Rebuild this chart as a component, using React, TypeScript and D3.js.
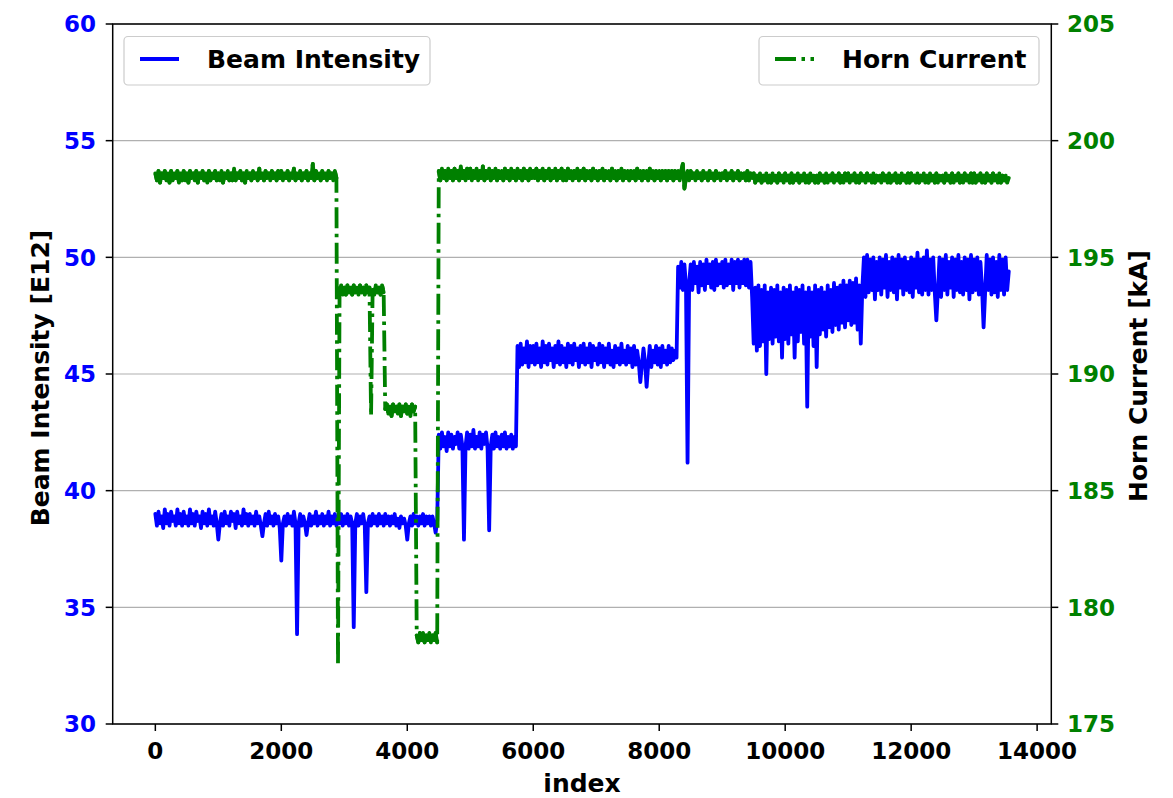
import React from 'react';
import * as d3 from 'd3';

// sample index (x): every 25th record, 0 … 13550
const sampleIndex = d3.range(0, 13551, 25);

// Beam Intensity [E12] (20 samples = 500 indices per row)
const beamIntensity = [
  39.0, 38.5, 39.1, 38.6, 38.9, 38.4, 39.2, 38.6, 39.0, 38.5, 39.1, 38.7, 38.9, 38.5, 39.2, 38.6, 39.0, 38.5, 39.1, 38.6,
  38.9, 38.5, 39.2, 38.6, 39.0, 38.5, 39.1, 38.7, 38.9, 38.4, 39.1, 38.6, 39.0, 38.5, 39.2, 38.6, 38.9, 38.5, 39.1, 38.6,
  37.9, 38.6, 39.0, 38.5, 39.1, 38.6, 38.9, 38.5, 39.1, 38.7, 39.0, 38.4, 39.1, 38.6, 38.9, 38.5, 39.2, 38.6, 39.0, 38.5,
  39.0, 38.6, 38.9, 38.5, 39.1, 38.6, 38.9, 38.5, 38.05, 38.6, 39.0, 38.5, 39.1, 38.6, 38.9, 38.5, 39.0, 38.6, 38.9, 38.4,
  37.0, 38.6, 38.9, 38.5, 39.0, 38.6, 38.9, 38.5, 39.1, 38.6, 33.85, 38.6, 39.0, 38.5, 38.9, 38.6, 38.1, 38.6, 39.0, 38.5,
  38.9, 38.6, 39.1, 38.5, 38.9, 38.6, 39.0, 38.5, 38.9, 38.6, 39.1, 38.5, 38.9, 38.6, 39.0, 38.5, 38.9, 38.6, 39.0, 38.5,
  38.9, 38.6, 39.0, 38.5, 38.9, 38.6, 34.15, 38.6, 39.0, 38.5, 38.9, 38.6, 39.0, 38.5, 35.65, 38.6, 38.9, 38.5, 39.0, 38.6,
  38.9, 38.5, 39.0, 38.6, 38.9, 38.5, 39.0, 38.6, 38.9, 38.5, 38.9, 38.6, 39.0, 38.5, 38.8, 38.4, 38.9, 38.6, 38.8, 38.5,
  37.9, 38.6, 38.9, 38.5, 39.0, 38.6, 38.9, 38.5, 38.9, 38.6, 39.0, 38.5, 38.9, 38.6, 38.9, 38.5, 38.9, 38.6, 38.2, 38.7,
  42.4, 41.8, 42.5, 41.9, 42.3, 41.7, 42.5, 41.9, 42.4, 41.8, 42.3, 42.0, 42.5, 41.8, 42.4, 41.9, 37.9, 41.9, 42.5, 41.8,
  42.4, 41.9, 42.6, 41.8, 42.3, 41.9, 42.5, 41.8, 42.4, 42.0, 42.5, 41.8, 38.3, 41.9, 42.4, 41.8, 42.5, 41.9, 42.3, 41.8,
  42.4, 41.9, 42.5, 41.8, 42.3, 41.9, 42.4, 41.8, 42.3, 41.9, 46.2, 45.3, 46.3, 45.4, 46.1, 45.5, 46.4, 45.3, 46.2, 45.5,
  46.2, 45.4, 46.3, 45.5, 46.1, 45.3, 46.4, 45.5, 46.2, 45.4, 46.3, 45.6, 46.1, 45.3, 46.2, 45.5, 46.4, 45.4, 46.2, 45.5,
  46.1, 45.3, 46.3, 45.5, 46.2, 45.4, 46.3, 45.6, 46.1, 45.3, 46.2, 45.5, 46.3, 45.4, 46.1, 45.5, 46.3, 45.3, 46.2, 45.6,
  46.1, 45.4, 46.3, 45.5, 46.2, 45.3, 46.1, 45.5, 46.3, 45.4, 46.0, 45.3, 46.2, 45.5, 46.1, 45.4, 46.3, 45.5, 46.0, 45.4,
  46.2, 45.5, 46.1, 45.3, 46.2, 45.4, 46.0, 45.5, 44.65, 45.4, 46.1, 45.5, 44.45, 45.4, 46.2, 45.3, 46.0, 45.5, 46.2, 45.4,
  46.1, 45.3, 46.2, 45.5, 46.0, 45.4, 46.2, 45.5, 46.1, 45.6, 46.0, 45.7, 49.6, 48.7, 49.8, 48.6, 49.7, 48.8, 41.2, 48.9,
  49.7, 48.6, 49.8, 48.9, 49.6, 48.5, 49.8, 48.8, 49.7, 48.6, 49.9, 48.9, 49.7, 48.7, 49.8, 48.6, 49.9, 48.8, 49.7, 48.9,
  49.8, 48.7, 49.9, 48.8, 49.7, 48.9, 49.9, 48.6, 49.8, 48.9, 49.9, 48.7, 49.8, 48.9, 49.9, 48.8, 49.9, 48.7, 49.8, 48.3,
  46.3, 48.7, 46.0, 48.8, 46.2, 48.6, 46.4, 48.8, 45.0, 48.5, 46.5, 48.7, 46.3, 48.6, 46.6, 48.8, 46.4, 48.5, 45.7, 48.7,
  46.5, 48.6, 46.3, 48.8, 46.7, 48.5, 45.7, 48.7, 46.4, 48.6, 46.8, 48.8, 46.3, 48.5, 43.6, 48.7, 46.6, 48.5, 46.2, 48.8,
  45.3, 48.6, 46.7, 48.7, 46.9, 48.5, 46.6, 48.8, 47.0, 48.6, 46.8, 48.9, 47.1, 48.7, 46.9, 48.8, 47.2, 49.0, 47.0, 48.8,
  47.3, 49.0, 47.1, 48.9, 47.2, 49.1, 46.9, 48.8, 46.3, 48.7, 50.0, 48.3, 50.1, 48.5, 49.9, 48.6, 50.0, 48.2, 49.8, 48.6,
  50.0, 48.4, 49.9, 48.7, 50.1, 48.3, 49.8, 48.6, 50.0, 48.5, 49.9, 48.2, 50.1, 48.7, 49.9, 48.4, 50.0, 48.6, 49.8, 48.5,
  50.0, 48.3, 49.9, 48.7, 50.2, 48.5, 49.9, 48.4, 50.0, 48.6, 50.3, 48.4, 49.9, 48.6, 50.0, 48.5, 47.3, 48.6, 50.0, 48.3,
  49.9, 48.6, 50.1, 48.4, 49.8, 48.7, 50.0, 48.3, 49.9, 48.6, 50.1, 48.5, 49.8, 48.4, 50.0, 48.6, 49.9, 48.2, 50.1, 48.5,
  49.9, 48.6, 50.0, 48.4, 49.8, 48.7, 47.0, 48.5, 50.1, 48.6, 49.9, 48.4, 50.0, 48.5, 49.8, 48.3, 50.1, 48.6, 49.9, 48.4,
  50.0, 48.6, 49.4,
];

// Horn Current [kA] (20 samples = 500 indices per row)
const hornCurrent = [
  198.6, 198.3, 198.7, 198.2, 198.6, 198.4, 198.7, 198.3, 198.6, 198.2, 198.7, 198.3, 198.6, 198.4, 198.7, 198.2, 198.6, 198.3, 198.7, 198.3,
  198.6, 198.2, 198.7, 198.4, 198.6, 198.3, 198.7, 198.2, 198.6, 198.4, 198.7, 198.3, 198.6, 198.2, 198.7, 198.3, 198.6, 198.4, 198.7, 198.3,
  198.6, 198.3, 198.7, 198.2, 198.6, 198.4, 198.7, 198.3, 198.6, 198.3, 198.8, 198.3, 198.6, 198.4, 198.7, 198.3, 198.6, 198.2, 198.7, 198.4,
  198.6, 198.3, 198.7, 198.4, 198.6, 198.3, 198.8, 198.4, 198.6, 198.3, 198.7, 198.4, 198.6, 198.3, 198.7, 198.4, 198.6, 198.3, 198.7, 198.4,
  198.7, 198.3, 198.6, 198.4, 198.7, 198.3, 198.6, 198.4, 198.8, 198.3, 198.6, 198.4, 198.7, 198.3, 198.6, 198.4, 198.7, 198.3, 198.6, 198.4,
  199.0, 198.3, 198.7, 198.4, 198.6, 198.3, 198.7, 198.4, 198.6, 198.3, 198.7, 198.4, 198.6, 198.3, 198.7, 198.4, 177.5, 193.6, 193.8, 193.4,
  193.7, 193.4, 193.8, 193.5, 193.7, 193.4, 193.8, 193.5, 193.7, 193.4, 193.8, 193.5, 193.7, 193.4, 193.8, 193.5, 193.7, 188.2, 193.6, 193.4,
  193.8, 193.5, 193.7, 193.4, 193.8, 193.5, 188.5, 188.7, 188.3, 188.6, 188.2, 188.7, 188.4, 188.6, 188.3, 188.7, 188.2, 188.6, 188.4, 188.7,
  188.3, 188.6, 188.2, 188.7, 188.4, 188.6, 178.8, 178.5, 178.9, 178.6, 178.9, 178.5, 178.8, 178.6, 178.9, 178.5, 178.8, 178.6, 178.9, 178.5,
  198.7, 198.3, 198.8, 198.4, 198.7, 198.3, 198.8, 198.4, 198.7, 198.3, 198.8, 198.4, 198.7, 198.3, 198.9, 198.4, 198.7, 198.3, 198.8, 198.4,
  198.8, 198.3, 198.7, 198.4, 198.8, 198.3, 198.7, 198.4, 198.9, 198.3, 198.7, 198.4, 198.8, 198.3, 198.7, 198.4, 198.8, 198.3, 198.7, 198.4,
  198.7, 198.3, 198.8, 198.4, 198.7, 198.3, 198.8, 198.4, 198.7, 198.3, 198.8, 198.4, 198.7, 198.3, 198.8, 198.4, 198.7, 198.3, 198.8, 198.4,
  198.7, 198.4, 198.8, 198.3, 198.7, 198.4, 198.8, 198.3, 198.7, 198.4, 198.8, 198.3, 198.7, 198.4, 198.8, 198.3, 198.7, 198.4, 198.8, 198.3,
  198.7, 198.3, 198.8, 198.4, 198.7, 198.3, 198.7, 198.4, 198.8, 198.3, 198.7, 198.4, 198.8, 198.3, 198.7, 198.4, 198.7, 198.3, 198.8, 198.4,
  198.7, 198.3, 198.7, 198.4, 198.8, 198.3, 198.7, 198.4, 198.7, 198.3, 198.8, 198.4, 198.7, 198.3, 198.7, 198.4, 198.8, 198.3, 198.7, 198.4,
  198.7, 198.3, 198.7, 198.4, 198.7, 198.3, 198.8, 198.4, 198.7, 198.3, 198.7, 198.4, 198.7, 198.3, 198.8, 198.4, 198.7, 198.3, 198.7, 198.4,
  198.7, 198.3, 198.7, 198.4, 198.7, 198.3, 198.7, 198.4, 198.7, 198.3, 198.7, 198.4, 198.7, 198.3, 198.7, 199.0, 197.95, 198.4, 198.7, 198.3,
  198.7, 198.4, 198.6, 198.3, 198.7, 198.4, 198.6, 198.3, 198.7, 198.4, 198.6, 198.3, 198.7, 198.4, 198.6, 198.3, 198.7, 198.4, 198.6, 198.3,
  198.6, 198.4, 198.7, 198.3, 198.6, 198.4, 198.7, 198.3, 198.6, 198.4, 198.7, 198.3, 198.6, 198.4, 198.6, 198.3, 198.7, 198.3, 198.6, 198.4,
  198.6, 198.2, 198.5, 198.3, 198.6, 198.2, 198.5, 198.3, 198.6, 198.2, 198.5, 198.2, 198.6, 198.3, 198.5, 198.2, 198.6, 198.3, 198.5, 198.2,
  198.6, 198.3, 198.5, 198.2, 198.6, 198.2, 198.5, 198.3, 198.6, 198.2, 198.5, 198.3, 198.6, 198.2, 198.5, 198.2, 198.6, 198.3, 198.5, 198.2,
  198.5, 198.2, 198.6, 198.3, 198.5, 198.2, 198.6, 198.2, 198.5, 198.3, 198.6, 198.2, 198.5, 198.3, 198.6, 198.2, 198.5, 198.2, 198.6, 198.3,
  198.6, 198.2, 198.5, 198.3, 198.6, 198.2, 198.5, 198.2, 198.6, 198.3, 198.5, 198.2, 198.6, 198.3, 198.5, 198.2, 198.6, 198.2, 198.5, 198.3,
  198.5, 198.2, 198.6, 198.3, 198.5, 198.2, 198.6, 198.2, 198.5, 198.3, 198.6, 198.2, 198.5, 198.2, 198.6, 198.3, 198.5, 198.2, 198.6, 198.2,
  198.6, 198.3, 198.5, 198.2, 198.6, 198.2, 198.5, 198.3, 198.6, 198.2, 198.5, 198.2, 198.6, 198.3, 198.5, 198.2, 198.6, 198.2, 198.5, 198.3,
  198.5, 198.2, 198.6, 198.3, 198.5, 198.2, 198.6, 198.2, 198.5, 198.3, 198.6, 198.2, 198.5, 198.2, 198.6, 198.3, 198.5, 198.2, 198.6, 198.2,
  198.6, 198.2, 198.5, 198.3, 198.6, 198.2, 198.5, 198.2, 198.6, 198.3, 198.5, 198.2, 198.6, 198.3, 198.5, 198.2, 198.6, 198.2, 198.5, 198.3,
  198.5, 198.2, 198.4,
];

const xTicks = [0, 2000, 4000, 6000, 8000, 10000, 12000, 14000];
const leftTicks = [30, 35, 40, 45, 50, 55, 60];
const rightTicks = [175, 180, 185, 190, 195, 200, 205];
const seriesNames = ['Beam Intensity', 'Horn Current'];
const axisTitles = ['index', 'Beam Intensity [E12]', 'Horn Current [kA]'];

const BLUE = '#0000ff';
const GREEN = '#008000';
const FONT = '"DejaVu Sans", Verdana, sans-serif';

export default function App() {
  const W = 1173, H = 798;
  const L = 112.7, R = 1051.3, T = 24, B = 724;
  const x = d3.scaleLinear().domain([-677, 14225]).range([L, R]);
  const yL = d3.scaleLinear().domain([30, 60]).range([B, T]);
  const yR = d3.scaleLinear().domain([175, 205]).range([B, T]);

  const n = Math.min(sampleIndex.length, beamIntensity.length, hornCurrent.length);
  const beam = beamIntensity.slice(0, n);
  const horn = hornCurrent.slice(0, n);

  const beamPath = d3.line<number>().x((_, i) => x(sampleIndex[i])).y((d) => yL(d))(beam) || '';
  const hornPath = d3.line<number>().x((_, i) => x(sampleIndex[i])).y((d) => yR(d))(horn) || '';
  // near-flat stretches are dense noise in the original and read as solid
  const hornFlat = horn
    .slice(1)
    .map((v, i) =>
      Math.abs(v - horn[i]) < 1.5
        ? `M${x(sampleIndex[i])},${yR(horn[i])}L${x(sampleIndex[i + 1])},${yR(v)}`
        : ''
    )
    .join('');

  const tickFs = 23;
  const labFs = 25;
  const lw = 3.8;
  const dash = '21,5.5,3.5,5.5';

  return (
    <svg width={W} height={H} style={{ position: 'absolute', left: 0, top: 0, background: '#fff' }} fontFamily={FONT} fontWeight="bold">
      <defs>
        <clipPath id="plot">
          <rect x={L} y={T} width={R - L} height={B - T} />
        </clipPath>
      </defs>
      <rect x={0} y={0} width={W} height={H} fill="#fff" />
      {leftTicks.map((t) => (
        <line key={'g' + t} x1={L} x2={R} y1={yL(t)} y2={yL(t)} stroke="#b0b0b0" strokeWidth={1.2} />
      ))}
      <g clipPath="url(#plot)">
        <path d={beamPath} fill="none" stroke={BLUE} strokeWidth={lw} strokeLinejoin="round" strokeLinecap="round" />
        <path d={hornPath} fill="none" stroke={GREEN} strokeWidth={lw} strokeDasharray={dash} strokeLinejoin="round" />
        <path d={hornFlat} fill="none" stroke={GREEN} strokeWidth={lw} strokeLinecap="round" />
      </g>
      <rect x={L} y={T} width={R - L} height={B - T} fill="none" stroke="#000" strokeWidth={1.5} />
      {xTicks.map((t) => (
        <g key={'x' + t}>
          <line x1={x(t)} x2={x(t)} y1={B} y2={B + 7} stroke="#000" strokeWidth={1.5} />
          <text x={x(t)} y={759} textAnchor="middle" fontSize={tickFs} fill="#000">{t}</text>
        </g>
      ))}
      {leftTicks.map((t) => (
        <g key={'l' + t}>
          <line x1={L} x2={L - 7} y1={yL(t)} y2={yL(t)} stroke="#000" strokeWidth={1.5} />
          <text x={96} y={yL(t) + 8.4} textAnchor="end" fontSize={tickFs} fill={BLUE}>{t}</text>
        </g>
      ))}
      {rightTicks.map((t) => (
        <g key={'r' + t}>
          <line x1={R} x2={R + 7} y1={yR(t)} y2={yR(t)} stroke="#000" strokeWidth={1.5} />
          <text x={1067} y={yR(t) + 8.4} textAnchor="start" fontSize={tickFs} fill={GREEN}>{t}</text>
        </g>
      ))}
      <text x={(L + R) / 2} y={792} textAnchor="middle" fontSize={labFs} fill="#000">{axisTitles[0]}</text>
      <text transform={`translate(48.5,378) rotate(-90)`} textAnchor="middle" fontSize={labFs} fill="#000">{axisTitles[1]}</text>
      <text transform={`translate(1146.5,376) rotate(-90)`} textAnchor="middle" fontSize={labFs} fill="#000">{axisTitles[2]}</text>
      <g>
        <rect x={124} y={36.5} width={306} height={48.5} rx={4} fill="#fff" fillOpacity={0.8} stroke="#cccccc" strokeWidth={1.2} />
        <line x1={140} x2={179} y1={59} y2={59} stroke={BLUE} strokeWidth={lw} />
        <text x={207} y={68} fontSize={labFs} fill="#000">{seriesNames[0]}</text>
      </g>
      <g>
        <rect x={759} y={36.5} width={280} height={48.5} rx={4} fill="#fff" fillOpacity={0.8} stroke="#cccccc" strokeWidth={1.2} />
        <line x1={775} x2={814} y1={59} y2={59} stroke={GREEN} strokeWidth={lw} strokeDasharray={dash} />
        <text x={842} y={68} fontSize={labFs} fill="#000">{seriesNames[1]}</text>
      </g>
    </svg>
  );
}
